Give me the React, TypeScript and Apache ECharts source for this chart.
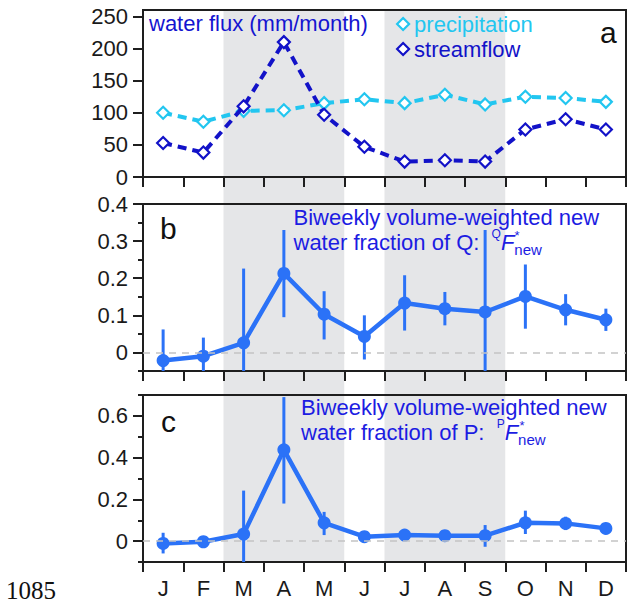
import React, { useEffect, useRef } from 'react';
import * as echarts from 'echarts';

// ---------- data ----------
const months = ['Jan', 'Feb', 'Mar', 'Apr', 'May', 'Jun', 'Jul', 'Aug', 'Sep', 'Oct', 'Nov', 'Dec'];
const monthTickLabels = ['J', 'F', 'M', 'A', 'M', 'J', 'J', 'A', 'S', 'O', 'N', 'D'];
const shadedPeriods = [['Mar', 'May'], ['Jul', 'Sep']];

// panel a: water flux (mm/month)
const precipitation = [100, 86, 103, 104, 115, 121, 115, 128, 113, 125, 123, 117];
const streamflow = [53, 38, 110, 210, 97, 47, 24, 26, 24, 74, 90, 74];
const fluxTicks = [0, 50, 100, 150, 200, 250];

// panel b: new water fraction of Q
const qFnew = [-0.022, -0.01, 0.026, 0.213, 0.103, 0.043, 0.133, 0.118, 0.109, 0.151, 0.115, 0.088];
const qFnewLow = [-0.05, -0.05, -0.05, 0.095, 0.035, -0.019, 0.059, 0.073, -0.05, 0.064, 0.073, 0.058];
const qFnewHigh = [0.062, 0.04, 0.226, 0.33, 0.165, 0.1, 0.208, 0.163, 0.33, 0.237, 0.157, 0.118];
const qTicks = [0, 0.1, 0.2, 0.3, 0.4];

// panel c: new water fraction of P
const pFnew = [-0.011, -0.003, 0.034, 0.4375, 0.088, 0.021, 0.029, 0.026, 0.026, 0.088, 0.085, 0.061];
const pFnewLow = [-0.059, -0.012, -0.1, 0.18, 0.029, 0.012, 0.02, 0.017, -0.027, 0.034, 0.053, 0.052];
const pFnewHigh = [0.04, 0.006, 0.242, 0.69, 0.14, 0.03, 0.038, 0.035, 0.077, 0.146, 0.117, 0.07];
const pTicks = [0, 0.2, 0.4, 0.6];

// ---------- styles ----------
const FONT = "'Liberation Sans', Arial, Helvetica, sans-serif";
const AXIS = '#1e1e1e';
const PRECIP = '#22c6f0';
const STREAM = '#1212c8';
const FNEW = '#2b72f7';
const NOTE = '#1c1ce2';
const BAND = '#e5e6e8';

const GL = 143;
const GW = 483;
const GH = 167;
const tops = [10, 204, 395];

const axisLineStyle = { color: AXIS, width: 2 };

function xAxisFor(gridIndex: number, showLabels: boolean) {
  return {
    type: 'category',
    gridIndex,
    data: months,
    boundaryGap: true,
    axisLine: { show: true, onZero: false, lineStyle: axisLineStyle },
    axisTick: { show: true, interval: 0, length: 10, inside: false, lineStyle: axisLineStyle },
    axisLabel: {
      show: showLabels,
      interval: 0,
      margin: 15,
      fontSize: 22,
      fontFamily: FONT,
      color: '#1a1a1a',
      formatter: (_v: string, i: number) => monthTickLabels[i],
    },
    splitLine: { show: false },
  };
}

function yMain(gridIndex: number, min: number, max: number, interval: number, tickLen: number, labels: number[], tickValues?: number[]) {
  return {
    type: 'value',
    gridIndex,
    position: 'left',
    min,
    max,
    interval,
    axisLine: { show: true, onZero: false, lineStyle: axisLineStyle },
    axisTick: tickValues
      ? { show: true, length: tickLen, customValues: tickValues, lineStyle: axisLineStyle }
      : { show: true, length: tickLen, lineStyle: axisLineStyle },
    axisLabel: {
      show: true,
      customValues: labels,
      margin: 15,
      fontSize: 22,
      fontFamily: FONT,
      color: '#1a1a1a',
    },
    splitLine: { show: false },
  };
}

function yOverlay(gridIndex: number, min: number, max: number, interval: number, tickValues: number[]) {
  return {
    type: 'value',
    gridIndex,
    position: 'left',
    offset: 0,
    min,
    max,
    interval,
    axisLine: { show: false, onZero: false },
    axisTick: { show: true, length: 10, customValues: tickValues, lineStyle: axisLineStyle },
    axisLabel: { show: false },
    splitLine: { show: false },
  };
}

function errorBars(xIdx: number, yIdx: number, low: number[], high: number[]) {
  return {
    type: 'custom',
    xAxisIndex: xIdx,
    yAxisIndex: yIdx,
    clip: true,
    z: 3,
    silent: true,
    data: low.map((l, i) => [i, l, high[i]]),
    renderItem: (_params: any, api: any) => {
      const p1 = api.coord([api.value(0), api.value(1)]);
      const p2 = api.coord([api.value(0), api.value(2)]);
      return {
        type: 'line',
        shape: { x1: p1[0], y1: p1[1], x2: p2[0], y2: p2[1] },
        style: { stroke: FNEW, lineWidth: 3 },
      };
    },
    markLine: {
      silent: true,
      symbol: ['none', 'none'],
      label: { show: false },
      lineStyle: { color: '#c4c4c4', type: [7, 6], width: 1.5 },
      data: [{ yAxis: 0 }],
    },
  };
}

function fnewLine(xIdx: number, yIdx: number, values: number[]) {
  return {
    type: 'line',
    xAxisIndex: xIdx,
    yAxisIndex: yIdx,
    z: 4,
    silent: true,
    data: values,
    symbol: 'circle',
    symbolSize: 13,
    itemStyle: { color: FNEW },
    lineStyle: { color: FNEW, width: 4.5 },
  };
}

function fluxLine(name: string, values: number[], color: string, z: number) {
  return {
    type: 'line',
    name,
    xAxisIndex: 0,
    yAxisIndex: 0,
    z,
    silent: true,
    data: values,
    symbol: 'diamond',
    symbolSize: 12,
    itemStyle: { color: '#ffffff', borderColor: color, borderWidth: 2.2 },
    lineStyle: { color, width: 4, type: [9, 6] },
  };
}

const App: React.FC = () => {
  const ref = useRef<HTMLDivElement>(null);

  useEffect(() => {
    if (!ref.current) return;
    const chart = echarts.init(ref.current, undefined, { renderer: 'svg' });

    const gridBox = (top: number) => ({
      left: GL,
      top,
      width: GW,
      height: GH,
      show: true,
      backgroundColor: 'transparent',
      borderColor: AXIS,
      borderWidth: 2,
      containLabel: false,
    });

    const option: any = {
      animation: false,
      backgroundColor: '#ffffff',
      textStyle: { fontFamily: FONT },
      grid: [
        gridBox(tops[0]),
        gridBox(tops[1]),
        gridBox(tops[2]),
        { left: GL, top: tops[0], width: GW, height: tops[2] + GH - tops[0], show: false },
      ],
      xAxis: [
        xAxisFor(0, false),
        xAxisFor(1, false),
        xAxisFor(2, true),
        { type: 'category', gridIndex: 3, data: months, boundaryGap: true, show: false },
      ],
      yAxis: [
        yMain(0, 0, 260, 50, 10, fluxTicks, fluxTicks),
        yMain(1, -0.05, 0.4, 0.05, 5, qTicks),
        yOverlay(1, -0.05, 0.4, 0.05, qTicks),
        yMain(2, -0.1, 0.7, 0.1, 5, pTicks),
        yOverlay(2, -0.1, 0.7, 0.1, pTicks),
        { type: 'value', gridIndex: 3, min: 0, max: 12, show: false },
      ],
      legend: {
        orient: 'vertical',
        left: 396,
        top: 13,
        padding: 0,
        itemGap: 3,
        itemWidth: 12,
        itemHeight: 12,
        selectedMode: false,
        textStyle: { fontSize: 22, fontFamily: FONT, lineHeight: 22 },
        data: [
          {
            name: 'precipitation',
            icon: 'diamond',
            itemStyle: { color: '#ffffff', borderColor: PRECIP, borderWidth: 2.2 },
            textStyle: { color: PRECIP, fontSize: 22, fontFamily: FONT },
          },
          {
            name: 'streamflow',
            icon: 'diamond',
            itemStyle: { color: '#ffffff', borderColor: STREAM, borderWidth: 2.2 },
            textStyle: { color: STREAM, fontSize: 22, fontFamily: FONT },
          },
        ],
      },
      series: [
        {
          type: 'custom',
          xAxisIndex: 3,
          yAxisIndex: 5,
          z: -1,
          silent: true,
          data: shadedPeriods.map(([a, b]) => [months.indexOf(a), months.indexOf(b)]),
          renderItem: (params: any, api: any) => {
            const c0 = api.coord([api.value(0), 0]);
            const c1 = api.coord([api.value(1), 0]);
            const w = api.size([1, 0])[0];
            const cs = params.coordSys;
            return {
              type: 'rect',
              shape: { x: c0[0] - w / 2, y: cs.y, width: c1[0] - c0[0] + w, height: cs.height },
              style: { fill: BAND },
            };
          },
        },
        fluxLine('precipitation', precipitation, PRECIP, 3),
        fluxLine('streamflow', streamflow, STREAM, 4),
        errorBars(1, 1, qFnewLow, qFnewHigh),
        fnewLine(1, 1, qFnew),
        errorBars(2, 3, pFnewLow, pFnewHigh),
        fnewLine(2, 3, pFnew),
      ],
      graphic: [
        // panel a
        {
          type: 'text', x: 149, y: 23, silent: true,
          style: { text: 'water flux (mm/month)', fill: '#1414d0', fontSize: 22, fontFamily: FONT, align: 'left', verticalAlign: 'middle' },
        },
        {
          type: 'text', x: 600, y: 32.6, silent: true,
          style: { text: 'a', fill: '#111', fontSize: 30, fontFamily: FONT, align: 'left', verticalAlign: 'middle' },
        },
        // panel b
        {
          type: 'text', x: 160, y: 228.6, silent: true,
          style: { text: 'b', fill: '#111', fontSize: 30, fontFamily: FONT, align: 'left', verticalAlign: 'middle' },
        },
        {
          type: 'text', x: 293.5, y: 217.4, silent: true,
          style: { text: 'Biweekly volume-weighted new', fill: NOTE, fontSize: 22, fontFamily: FONT, align: 'left', verticalAlign: 'middle' },
        },
        {
          type: 'text', x: 293.5, y: 242.4, silent: true,
          style: {
            text: '{m|water fraction of Q:  }{s|Q}{f|F}{b|new}',
            align: 'left',
            verticalAlign: 'middle',
            fill: NOTE,
            fontFamily: FONT,
            rich: {
              m: { fontSize: 22, lineHeight: 29, fill: NOTE, fontFamily: FONT },
              s: { fontSize: 12, verticalAlign: 'top', fill: NOTE, fontFamily: FONT },
              f: { fontSize: 22, fontStyle: 'italic', fill: NOTE, fontFamily: FONT },
              b: { fontSize: 15, verticalAlign: 'bottom', fill: NOTE, fontFamily: FONT },
            },
          },
        },
        {
          type: 'text', x: 517, y: 235, silent: true,
          style: { text: '*', fill: NOTE, fontSize: 13, fontFamily: FONT, align: 'center', verticalAlign: 'middle' },
        },
        // panel c
        {
          type: 'text', x: 161, y: 421.6, silent: true,
          style: { text: 'c', fill: '#111', fontSize: 30, fontFamily: FONT, align: 'left', verticalAlign: 'middle' },
        },
        {
          type: 'text', x: 301, y: 407.4, silent: true,
          style: { text: 'Biweekly volume-weighted new', fill: NOTE, fontSize: 22, fontFamily: FONT, align: 'left', verticalAlign: 'middle' },
        },
        {
          type: 'text', x: 301, y: 432.4, silent: true,
          style: {
            text: '{m|water fraction of P:  }{s|P}{f|F}{b|new}',
            align: 'left',
            verticalAlign: 'middle',
            fill: NOTE,
            fontFamily: FONT,
            rich: {
              m: { fontSize: 22, lineHeight: 29, fill: NOTE, fontFamily: FONT },
              s: { fontSize: 12, verticalAlign: 'top', fill: NOTE, fontFamily: FONT },
              f: { fontSize: 22, fontStyle: 'italic', fill: NOTE, fontFamily: FONT },
              b: { fontSize: 15, verticalAlign: 'bottom', fill: NOTE, fontFamily: FONT },
            },
          },
        },
        {
          type: 'text', x: 522, y: 425.5, silent: true,
          style: { text: '*', fill: NOTE, fontSize: 13, fontFamily: FONT, align: 'center', verticalAlign: 'middle' },
        },
        // page number
        {
          type: 'text', x: 6, y: 590.5, silent: true,
          style: { text: '1085', fill: '#111', fontSize: 25, lineHeight: 20, fontFamily: "'Liberation Serif', 'Times New Roman', serif", align: 'left', verticalAlign: 'middle' },
        },
      ],
    };

    chart.setOption(option);
    return () => {
      chart.dispose();
    };
  }, []);

  return (
    <div
      ref={ref}
      style={{ position: 'fixed', left: 0, top: 0, width: 628, height: 602, background: '#fff' }}
    />
  );
};

export default App;
